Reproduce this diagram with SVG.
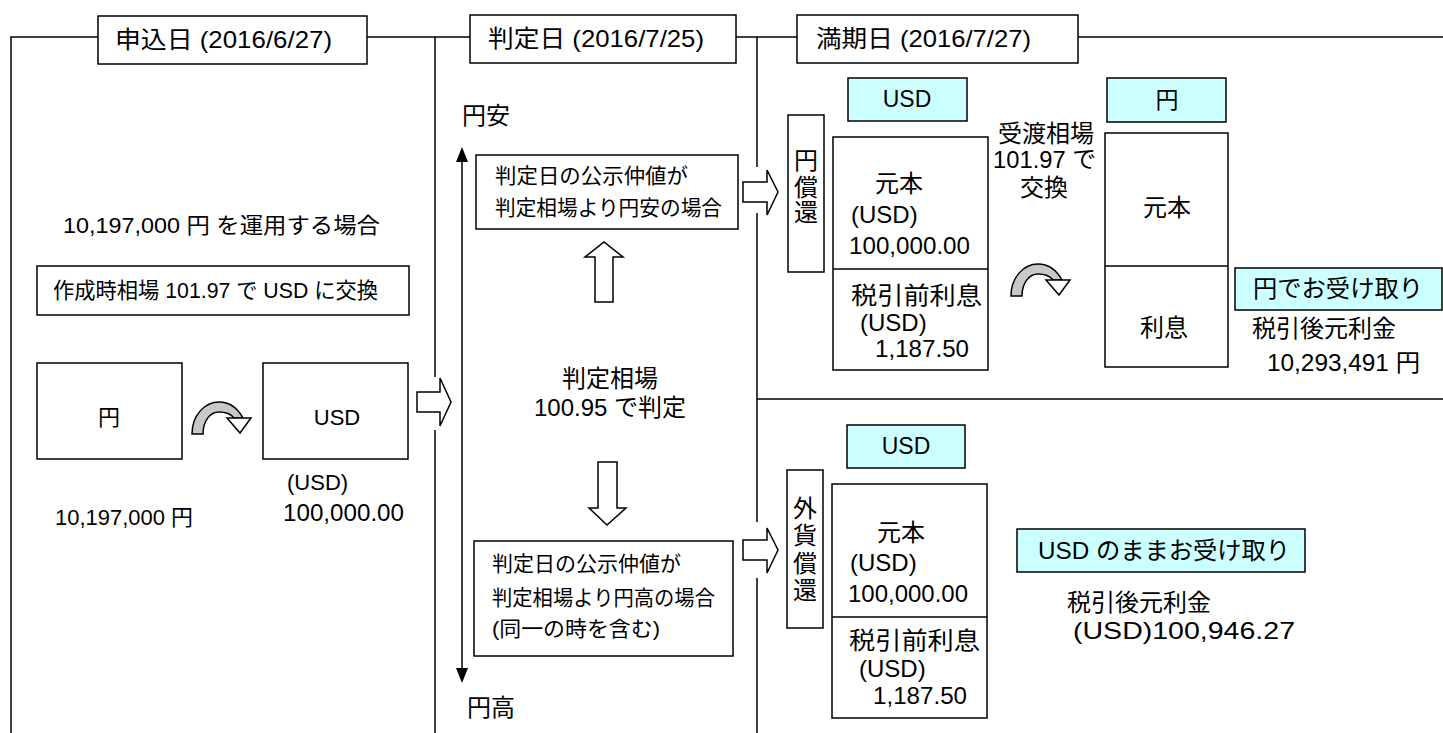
<svg xmlns="http://www.w3.org/2000/svg" width="1443" height="733" viewBox="0 0 1443 733">
<style>
.ln{stroke:#000;stroke-width:1.5;fill:none}
.bx{stroke:#000;stroke-width:1.5;fill:#fff}
.cy{stroke:#000;stroke-width:1.5;fill:#ccffff}
.ba{stroke:#000;stroke-width:1.5;fill:#fff;stroke-linejoin:miter}
text{font-family:"Liberation Sans","Noto Sans CJK JP",sans-serif;fill:#000}
.f21{font-size:21px}.f22{font-size:22px}.f23{font-size:23px}.f24{font-size:24px}
.m{text-anchor:middle}
</style>
<defs>
<marker id="ah" viewBox="0 0 12 14" refX="12" refY="7" markerWidth="12" markerHeight="14" markerUnits="userSpaceOnUse" orient="auto-start-reverse">
<path d="M0,0 L12,7 L0,14 Z" fill="#000"/>
</marker>
<g id="curv">
<path d="M0,32 C0,13 13,0 27,0 C38,0 46,7 51,16 L42,16 C39,12 34,10 27,10 C18,10 11,19 11,32 Z" fill="#c8c8c8" stroke="#000" stroke-width="1.5"/>
<path d="M35,16 L59,16 L48,31 Z" fill="#fff" stroke="#000" stroke-width="1.5" stroke-linejoin="miter"/>
</g>
</defs>

<g id="frame">
<path class="ln" d="M11,733 V37 H1443"/>
<path class="ln" d="M435,37 V377 M435,430 V733"/>
<path class="ln" d="M757,37 V167 M757,213 V522 M757,578 V733"/>
<path class="ln" d="M757,399 H1443"/>
</g>

<g id="headers">
<g id="h1"><rect class="bx" x="98" y="16" width="269" height="48"/><text class="f24" x="115" y="48" textLength="217" lengthAdjust="spacingAndGlyphs">申込日 (2016/6/27)</text></g>
<g id="h2"><rect class="bx" x="470" y="15" width="266" height="48"/><text class="f24" x="488" y="47" textLength="216" lengthAdjust="spacingAndGlyphs">判定日 (2016/7/25)</text></g>
<g id="h3"><rect class="bx" x="797" y="15" width="281" height="48"/><text class="f24" x="816" y="47" textLength="215" lengthAdjust="spacingAndGlyphs">満期日 (2016/7/27)</text></g>
</g>

<g id="connectors">
<polygon class="ba" points="417,392 440,392 440,378 451,402 440,426 440,412 417,412"/>
<polygon class="ba" points="743,182 767,182 767,170 778,192 767,215 767,202 743,202"/>
<polygon class="ba" points="743,540 767,540 767,528 778,550 767,573 767,560 743,560"/>
<polygon class="ba" points="595,302 595,257 585,257 604,242 623,257 613,257 613,302"/>
<polygon class="ba" points="598,462 617,462 617,508 626,508 607,525 589,508 598,508"/>
<line x1="462" y1="670" x2="462" y2="160" stroke="#000" stroke-width="1.5"/>
<path d="M462,147 L468,162 L456,162 Z" fill="#000"/>
<path d="M462,683 L468,668 L456,668 Z" fill="#000"/>
<use href="#curv" x="192" y="402"/>
<use href="#curv" x="1011" y="264"/>
</g>

<g id="left-col">
<text id="t-amount" class="f22" x="63" y="233" textLength="317" lengthAdjust="spacingAndGlyphs">10,197,000 円  を運用する場合</text>
<g id="n-rate"><rect class="bx" x="37" y="266" width="372" height="49"/><text class="f22" x="53" y="298" textLength="325" lengthAdjust="spacingAndGlyphs">作成時相場 101.97 で USD に交換</text></g>
<g id="n-yen"><rect class="bx" x="37" y="363" width="145" height="96"/><text class="f22 m" x="109" y="425">円</text></g>
<g id="n-usd"><rect class="bx" x="263" y="363" width="145" height="96"/><text class="f22 m" x="337" y="425">USD</text></g>
<text class="f22" x="287" y="490">(USD)</text>
<text class="f23" x="283" y="521" textLength="121" lengthAdjust="spacingAndGlyphs">100,000.00</text>
<text class="f22" x="55" y="525" textLength="138" lengthAdjust="spacingAndGlyphs">10,197,000 円</text>
</g>

<g id="mid-col">
<text class="f24" x="462" y="124">円安</text>
<g id="n-cheap"><rect class="bx" x="476" y="155" width="262" height="74"/>
<text class="f21" x="495" y="183" textLength="193" lengthAdjust="spacingAndGlyphs">判定日の公示仲値が</text>
<text class="f21" x="495" y="215" textLength="227" lengthAdjust="spacingAndGlyphs">判定相場より円安の場合</text></g>
<text class="f24 m" x="610" y="387">判定相場</text>
<text class="f24 m" x="610" y="416">100.95 で判定</text>
<g id="n-high"><rect class="bx" x="474" y="541" width="259" height="115"/>
<text class="f21" x="492" y="571" textLength="189" lengthAdjust="spacingAndGlyphs">判定日の公示仲値が</text>
<text class="f21" x="492" y="605" textLength="223" lengthAdjust="spacingAndGlyphs">判定相場より円高の場合</text>
<text class="f21" x="492" y="636" textLength="168" lengthAdjust="spacingAndGlyphs">(同一の時を含む)</text></g>
<text class="f24" x="467" y="716">円高</text>
</g>

<g id="right-top">
<g id="n-yenrepay"><rect class="bx" x="788" y="115" width="36" height="157"/>
<text class="f24 m" x="806" y="169">円</text><text class="f24 m" x="806" y="196">償</text><text class="f24 m" x="806" y="221">還</text></g>
<g id="n-usd1"><rect class="cy" x="848" y="78" width="119" height="43"/><text class="f23 m" x="907" y="107">USD</text></g>
<g id="n-usdbox1"><rect class="bx" x="833" y="137" width="155" height="233"/><line class="ln" x1="833" y1="269" x2="988" y2="269"/>
<text class="f24" x="875" y="192">元本</text>
<text class="f24" x="851" y="223">(USD)</text>
<text class="f24" x="849" y="254" textLength="121" lengthAdjust="spacingAndGlyphs">100,000.00</text>
<text class="f24" x="851" y="304" textLength="131" lengthAdjust="spacingAndGlyphs">税引前利息</text>
<text class="f24" x="860" y="331">(USD)</text>
<text class="f24" x="875" y="357" textLength="94" lengthAdjust="spacingAndGlyphs">1,187.50</text></g>
<text class="f24" x="998" y="142">受渡相場</text>
<text class="f24" x="993" y="168" textLength="103" lengthAdjust="spacingAndGlyphs">101.97 で</text>
<text class="f24" x="1020" y="196">交換</text>
<g id="n-yen1"><rect class="cy" x="1107" y="78" width="119" height="44"/><text class="f23 m" x="1167" y="108">円</text></g>
<g id="n-yenbox"><rect class="bx" x="1105" y="133" width="123" height="234"/><line class="ln" x1="1105" y1="266" x2="1228" y2="266"/>
<text class="f24 m" x="1167" y="216">元本</text>
<text class="f24 m" x="1164" y="336">利息</text></g>
<g id="n-yenrecv"><rect class="cy" x="1235" y="268" width="207" height="42"/><text class="f24" x="1253" y="297" textLength="170" lengthAdjust="spacingAndGlyphs">円でお受け取り</text></g>
<text class="f24" x="1252" y="337">税引後元利金</text>
<text class="f24" x="1267" y="371" textLength="153" lengthAdjust="spacingAndGlyphs">10,293,491 円</text>
</g>

<g id="right-bottom">
<g id="n-fxrepay"><rect class="bx" x="787" y="470" width="36" height="158"/>
<text class="f24 m" x="805" y="517">外</text><text class="f24 m" x="805" y="544">貨</text><text class="f24 m" x="805" y="572">償</text><text class="f24 m" x="805" y="599">還</text></g>
<g id="n-usd2"><rect class="cy" x="847" y="425" width="118" height="43"/><text class="f23 m" x="906" y="454">USD</text></g>
<g id="n-usdbox2"><rect class="bx" x="832" y="484" width="155" height="234"/><line class="ln" x1="832" y1="617" x2="987" y2="617"/>
<text class="f24" x="877" y="541">元本</text>
<text class="f24" x="850" y="571">(USD)</text>
<text class="f24" x="848" y="602" textLength="120" lengthAdjust="spacingAndGlyphs">100,000.00</text>
<text class="f24" x="849" y="649" textLength="131" lengthAdjust="spacingAndGlyphs">税引前利息</text>
<text class="f24" x="859" y="677">(USD)</text>
<text class="f24" x="873" y="704" textLength="94" lengthAdjust="spacingAndGlyphs">1,187.50</text></g>
<g id="n-usdrecv"><rect class="cy" x="1017" y="529" width="288" height="43"/><text class="f24" x="1038" y="559" textLength="252" lengthAdjust="spacingAndGlyphs">USD のままお受け取り</text></g>
<text class="f24" x="1067" y="611">税引後元利金</text>
<text class="f24" x="1073" y="639" textLength="222" lengthAdjust="spacingAndGlyphs">(USD)100,946.27</text>
</g>
</svg>
